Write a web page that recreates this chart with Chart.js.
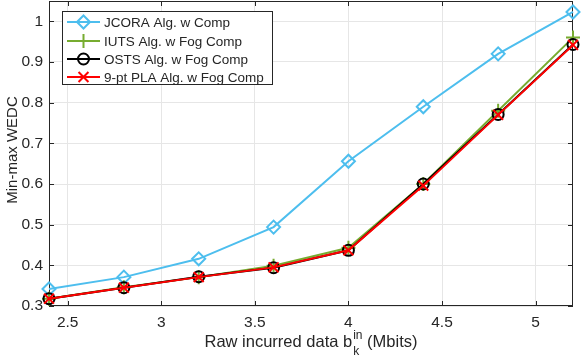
<!DOCTYPE html>
<html>
<head>
<meta charset="utf-8">
<script src="https://cdn.jsdelivr.net/npm/chart.js@4/dist/chart.umd.min.js"></script>
<style>
  html, body { margin: 0; padding: 0; background: #fff; }
</style>
</head>
<body>
<canvas id="canvas" width="581" height="359"></canvas>
<script>
// data
const bitsIn = [2.4, 2.8, 3.2, 3.6, 4.0, 4.4, 4.8, 5.2];
const jcora = [0.342, 0.371, 0.416, 0.494, 0.656, 0.790, 0.920, 1.023];
const iuts  = [0.318, 0.346, 0.371, 0.399, 0.443, 0.600, 0.780, 0.960];
const osts  = [0.318, 0.345, 0.372, 0.394, 0.437, 0.600, 0.771, 0.943];
const pla   = [0.318, 0.345, 0.371, 0.395, 0.437, 0.596, 0.770, 0.942];
const names = ['JCORA Alg. w Comp', 'IUTS Alg. w Fog Comp', 'OSTS Alg. w Fog Comp', '9-pt PLA Alg. w Fog Comp'];
const xTicks = [2.5, 3, 3.5, 4, 4.5, 5];
const yTicks = [0.3, 0.4, 0.5, 0.6, 0.7, 0.8, 0.9, 1];

const FONT = '"Liberation Sans", Arial, Helvetica, sans-serif';
const AX = '#262626';

function pts(ys) {
    return bitsIn.map((x, i) => ({ x: x, y: ys[i] }));
}

function series(label, ys, color, style, radius, order) {
    return {
        label: label,
        data: pts(ys),
        borderColor: color,
        backgroundColor: 'transparent',
        borderWidth: 2,
        pointStyle: style,
        pointRadius: radius,
        pointBorderWidth: 2,
        pointBorderColor: color,
        pointBackgroundColor: 'rgba(0,0,0,0)',
        pointHoverRadius: radius,
        tension: 0,
        clip: false,
        order: order
    };
}

// axes box, inward ticks, legend and the x title with sub/superscript
const matlabLook = {
    id: 'matlabLook',
    beforeDatasetsDraw(chart) {
        const ctx = chart.ctx;
        const a = chart.chartArea;
        const xs = chart.scales.x, ys = chart.scales.y;
        ctx.save();
        ctx.strokeStyle = AX;
        ctx.lineWidth = 1;
        ctx.strokeRect(a.left + 0.5, a.top + 0.5, a.right - a.left - 1, a.bottom - a.top - 1);
        ctx.beginPath();
        xTicks.forEach(v => {
            const px = Math.round(xs.getPixelForValue(v)) + 0.5;
            ctx.moveTo(px, a.bottom); ctx.lineTo(px, a.bottom - 5);
            ctx.moveTo(px, a.top); ctx.lineTo(px, a.top + 5);
        });
        yTicks.forEach(v => {
            const py = Math.round(ys.getPixelForValue(v)) + 0.5;
            ctx.moveTo(a.left, py); ctx.lineTo(a.left + 5, py);
            ctx.moveTo(a.right, py); ctx.lineTo(a.right - 5, py);
        });
        ctx.stroke();
        ctx.restore();
    },
    afterDraw(chart) {
        const ctx = chart.ctx;
        const a = chart.chartArea;
        ctx.save();

        // legend
        const lx = 62, ly = 11, lw = 210, lh = 73;
        ctx.fillStyle = '#fff';
        ctx.fillRect(lx, ly, lw, lh);
        ctx.strokeStyle = AX;
        ctx.lineWidth = 1;
        ctx.strokeRect(lx + 0.5, ly + 0.5, lw, lh);
        const rows = [22, 41, 59, 77];
        ctx.font = '13.5px ' + FONT;
        ctx.textBaseline = 'middle';
        ctx.textAlign = 'left';
        chart.data.datasets.forEach((ds, i) => {
            const y = rows[i];
            ctx.strokeStyle = ds.borderColor;
            ctx.lineWidth = 2;
            ctx.beginPath();
            ctx.moveTo(67, y); ctx.lineTo(100, y);
            ctx.stroke();
            ctx.fillStyle = 'rgba(0,0,0,0)';
            Chart.helpers.drawPoint(ctx, {
                pointStyle: ds.pointStyle, radius: ds.pointRadius, rotation: 0, borderWidth: 2
            }, 83.5, y);
            ctx.fillStyle = AX;
            ctx.fillText(ds.label, 104, y + 1);
        });

        // x title: Raw incurred data b_k^in (Mbits)
        const main = '16.5px ' + FONT, small = '12px ' + FONT;
        const p1 = 'Raw incurred data b', p2 = ' (Mbits)';
        ctx.font = main;
        const w1 = ctx.measureText(p1).width, w2 = ctx.measureText(p2).width;
        ctx.font = small;
        const wIn = ctx.measureText('in').width;
        const total = w1 + wIn + 1 + w2;
        let x0 = (a.left + a.right) / 2 - total / 2;
        const base = 347;
        ctx.fillStyle = AX;
        ctx.textBaseline = 'alphabetic';
        ctx.font = main;
        ctx.fillText(p1, x0, base);
        ctx.font = small;
        ctx.fillText('in', x0 + w1 + 1, base - 8);
        ctx.fillText('k', x0 + w1 + 1, base + 8);
        ctx.font = main;
        ctx.fillText(p2, x0 + w1 + wIn + 1, base);

        // y title
        ctx.translate(13, 150);
        ctx.rotate(-Math.PI / 2);
        ctx.textAlign = 'center';
        ctx.textBaseline = 'middle';
        ctx.font = '15px ' + FONT;
        ctx.fillText('Min-max WEDC', 0, 0);
        ctx.restore();
    }
};

const ctx = document.getElementById('canvas').getContext('2d');

const myChart = new Chart(ctx, {
    type: 'line',
    data: {
        datasets: [
            series(names[0], jcora, '#4DBEEE', 'rectRot', 6.5, 4),
            series(names[1], iuts, '#77AC30', 'cross', 7, 3),
            series(names[2], osts, '#000000', 'circle', 5.5, 2),
            series(names[3], pla, '#FF0000', 'crossRot', 7, 1)
        ]
    },
    options: {
        responsive: false,
        animation: false,
        layout: { autoPadding: false, padding: { top: 1, right: 8, left: 0, bottom: 0 } },
        plugins: {
            legend: { display: false },
            tooltip: { enabled: false }
        },
        scales: {
            x: {
                type: 'linear',
                min: 2.4,
                max: 5.2,
                afterBuildTicks: s => { s.ticks = xTicks.map(v => ({ value: v })); },
                afterFit: s => { s.height = 53; s.paddingLeft = 0; s.paddingRight = 0; },
                grid: { color: '#e6e6e6', drawTicks: false },
                border: { display: false },
                ticks: {
                    padding: 7,
                    color: AX,
                    font: { family: FONT, size: 15.5 },
                    maxRotation: 0,
                    callback: v => String(v)
                }
            },
            y: {
                min: 0.3,
                max: 1.05,
                afterBuildTicks: s => { s.ticks = yTicks.map(v => ({ value: v })); },
                afterFit: s => { s.width = 49; s.paddingTop = 0; s.paddingBottom = 0; },
                grid: { color: '#e6e6e6', drawTicks: false },
                border: { display: false },
                ticks: {
                    padding: 6,
                    color: AX,
                    font: { family: FONT, size: 15.5 },
                    callback: v => String(v)
                }
            }
        }
    },
    plugins: [matlabLook]
});
</script>
</body>
</html>
